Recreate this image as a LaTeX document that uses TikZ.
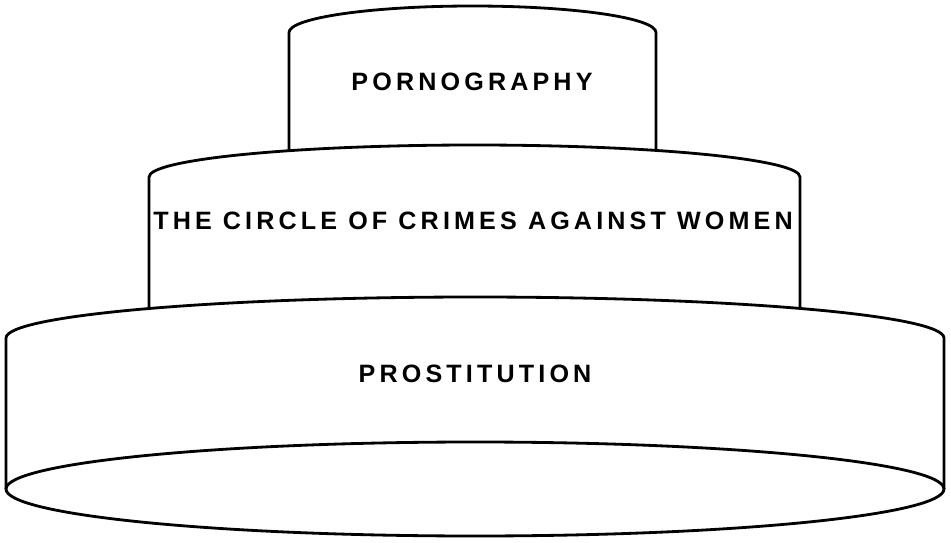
\documentclass[tikz,border=0pt]{standalone}
\usepackage{fontspec}
\newfontfamily\tierfont[LetterSpace=16.5]{Liberation Sans}

\begin{document}
\begin{tikzpicture}[
    x=0.02cm, y=0.02cm,
    tier/.style={
        draw=black,
        line width=1.6pt,
        line join=round
    },
    label/.style={
        font=\tierfont\bfseries\fontsize{14.3}{16}\selectfont,
        inner sep=0pt,
        anchor=center
    }
]
\useasboundingbox (0,0) rectangle (951,542);

% Bottom Tier
\coordinate (botleft) at (6,53);
\coordinate (botright) at (944,53);
\draw[tier] (botleft) -- (6,204) arc[start angle=180, end angle=0, x radius=469, y radius=41] -- (botright);
\draw[tier] (475,53) ellipse [x radius=469, y radius=47];

% Middle Tier
\coordinate (midleft) at (149,233.5);
\coordinate (midright) at (800,233.5);
\draw[tier] (midleft) -- (149,365) arc[start angle=180, end angle=0, x radius=325.5, y radius=32] -- (midright);

% Top Tier
\coordinate (topleft) at (289,391.5);
\coordinate (topright) at (656,391.5);
\draw[tier] (topleft) -- (289,509.5) arc[start angle=180, end angle=0, x radius=183.5, y radius=26.5] -- (topright);

% Labels
\node[label] (porn) at (472,460) {PORNOGRAPHY};
\node[label] (circle) at (473,321) {THE CIRCLE OF CRIMES AGAINST WOMEN};
\node[label] (prost) at (475,168) {PROSTITUTION};

\end{tikzpicture}
\end{document}
